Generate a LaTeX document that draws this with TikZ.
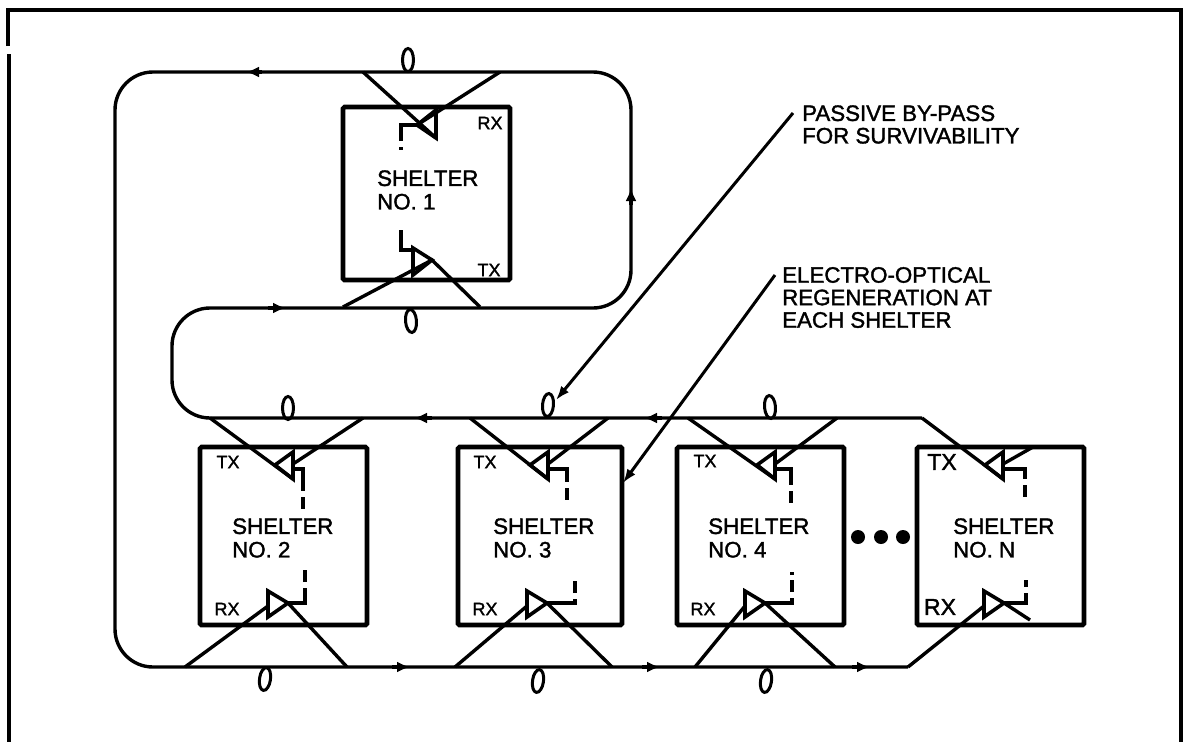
\documentclass[tikz,border=0pt]{standalone}
\usepackage{fontspec}
\setmainfont[FakeBold=1.6]{Liberation Sans}
\usetikzlibrary{arrows.meta,shapes.geometric}
\tikzset{
    fibre/.style={line width=3.4pt},
    shelterbox/.style={draw,line width=4.6pt,rounded corners=1.5pt,inner sep=0pt,minimum height=178pt},
    shelterlab/.style={font=\fontsize{22.3}{23.5}\selectfont,align=left,anchor=west,inner sep=0pt},
    notelab/.style={font=\fontsize{22.3}{22.5}\selectfont,align=left,anchor=west,inner sep=0pt},
    portlab/.style={font=\fontsize{18}{18}\selectfont,inner sep=0pt},
    bigport/.style={font=\fontsize{23}{23}\selectfont,inner sep=0pt},
    laser/.style={line width=3.6pt,line join=miter},
    stub/.style={line width=3.2pt,dash pattern=on 32pt off 6pt on 12pt off 5pt},
    fibreloop/.style={draw,ellipse,line width=3pt,inner sep=0pt,minimum width=11pt,minimum height=23pt},
    tipmark/.style={line width=3.4pt,-{Latex[length=13pt,width=11pt]}},
    leader/.style={line width=3pt,-{Latex[length=14pt,width=10pt]}},
    spot/.style={fill,circle,inner sep=0pt,minimum size=14pt}
}
\begin{document}
\begin{tikzpicture}[x=1pt,y=-1pt]
    \useasboundingbox (0,0) rectangle (1184,742);
    % Frame, open at the bottom
    \draw[line width=3.4pt] (8,46) -- (8,10) -- (1181,10) -- (1181,742);
    \draw[line width=3.4pt] (9,54) -- (9,742);

    % Ring fibre
    \coordinate (busstart) at (922,418);
    \coordinate (busend) at (908,667);
    \draw[fibre,rounded corners=38pt] (busstart) -- (172,418) -- (172,308) -- (631,308)
        -- (631,72) -- (115,72) -- (115,667) -- (busend);

    % Direction marks on the ring
    \foreach \xa/\ya/\xb/\yb in {262/72/246/72, 631/205/631/188, 268/308/286/308,
                                 432/418/414/418, 662/418/644/418,
                                 392/667/410/667, 642/667/660/667, 852/667/870/667}
    {
        \draw[tipmark] (\xa,\ya) -- (\xb,\yb);
    }

    % Shelter 1
    \node[shelterbox,minimum width=167pt,minimum height=173pt] (box1) at (426.5,193.5) {};
    \node[shelterlab] (name1) at (377,190) {SHELTER\\NO. 1};
    \node[portlab] (rxlab1) at (490,123) {RX};
    \node[portlab] (txlab1) at (489,270) {TX};
    \draw[fibre] (363,72) -- (436,138);
    \draw[fibre] (500,72) -- (417,125);
    \draw[laser] (436,110) -- (436,138) -- (417,125) -- cycle;
    \draw[stub] (417,125) -- (401,125) -- (401,150);
    \draw[fibre] (343,307) -- (432,260) -- (480,307);
    \draw[laser] (413,248) -- (413,275) -- (432,260) -- cycle;
    \draw[stub] (413,250) -- (401,250) -- (401,230);
    \node[fibreloop] (looptop1) at (408,60) {};
    \node[fibreloop,rotate=5] (loopbot1) at (411,321) {};

    % Shelters along the row
    \foreach \sh/\xa/\xb/\tv/\rv/\tl/\tr/\ty/\bl/\br/\by/\sx/\sy/\rx/\ry/\nx in {
        2/200/367/293/268/210/363/418/185/347/667/303/513/305/567/232,
        3/458/622/548/527/470/608/418/455/612/667/567/500/575/580/493,
        4/677/844/775/745/688/837/418/695/835/667/791/505/792/572/708,
        N/917/1084/1003/984/922/1033/447/908/1030/620/1025/498/1026/580/953}
    {
        \pgfmathsetmacro{\midx}{(\xa+\xb)/2}
        \pgfmathsetmacro{\wid}{\xb-\xa}
        \node[shelterbox,minimum width=\wid pt] (box\sh) at (\midx,536) {};
        \node[shelterlab] (name\sh) at (\nx,538) {SHELTER\\NO. \sh};
        % TX end
        \draw[fibre] (\tl,418) -- (\tv,479);
        \draw[fibre] (\tr,\ty) -- (\tv,464);
        \draw[laser] (\tv,452) -- (\tv,479) -- (\tv-18,465) -- cycle;
        \draw[stub] (\tv,469) -- (\sx,469) -- (\sx,\sy);
        % RX end
        \draw[fibre] (\bl,667) -- (\rv,606);
        \draw[fibre] (\br,\by) -- (\rv+20,603);
        \draw[laser] (\rv,591) -- (\rv,617) -- (\rv+20,603) -- cycle;
        \draw[stub] (\rv+20,603) -- (\rx,603) -- (\rx,\ry);
    }
    \node[portlab] (txlab2) at (228,462) {TX};
    \node[portlab] (rxlab2) at (227,609) {RX};
    \node[portlab] (txlab3) at (485,462) {TX};
    \node[portlab] (rxlab3) at (485,609) {RX};
    \node[portlab] (txlab4) at (705,461) {TX};
    \node[portlab] (rxlab4) at (703,609) {RX};
    \node[bigport] (txlabN) at (942,462) {TX};
    \node[bigport] (rxlabN) at (940,607) {RX};

    % Fibre loops on the row
    \foreach \nm/\lx/\ly/\ang in {a/288/408/0, b/548/405/-5, c/770/407/5,
                                  d/265/679/-8, e/538/681/-8, f/766/681/-8}
    {
        \node[fibreloop,rotate=\ang] (loop\nm) at (\lx,\ly) {};
    }

    % Dots between shelter 4 and shelter N
    \foreach \nm/\dx in {a/858, b/881, c/903}
    {
        \node[spot] (dot\nm) at (\dx,537) {};
    }

    % Notes
    \node[notelab] (passive) at (802,124.5) {PASSIVE BY-PASS\\FOR SURVIVABILITY};
    \node[notelab] (electro) at (782,297.5) {ELECTRO-OPTICAL\\REGENERATION AT\\EACH SHELTER};
    \coordinate (passivefoot) at (793,113);
    \coordinate (passivetip) at (556,400);
    \coordinate (electrofoot) at (775,275);
    \coordinate (electrotip) at (623,483);
    \draw[leader] (passivefoot) -- (passivetip);
    \draw[leader] (electrofoot) -- (electrotip);
\end{tikzpicture}
\end{document}
